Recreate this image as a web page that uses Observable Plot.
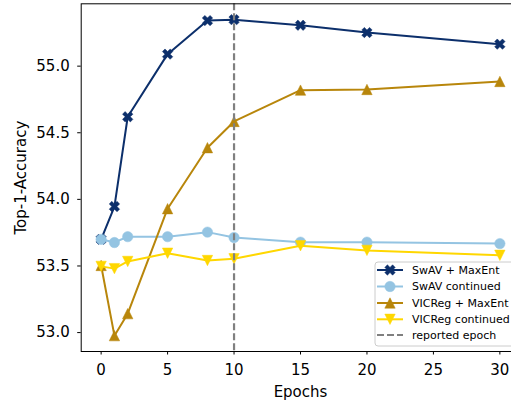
<!DOCTYPE html>
<html><head><meta charset="utf-8">
<script src="https://cdn.jsdelivr.net/npm/d3@7"></script>
<script src="https://cdn.jsdelivr.net/npm/@observablehq/plot@0.6"></script>
<style>html,body{margin:0;padding:0;overflow:hidden;background:#fff}</style>
</head><body><div id="chart"></div>
<script>
const epochs = [0, 1, 2, 5, 8, 10, 15, 20, 30];
const swavMaxEnt = [53.70, 53.946, 54.62, 55.09, 55.342, 55.349, 55.307, 55.252, 55.165];
const swavContinued = [53.70, 53.676, 53.72, 53.72, 53.754, 53.714, 53.679, 53.679, 53.668];
const vicregMaxEnt = [53.504, 52.977, 53.142, 53.93, 54.388, 54.585, 54.82, 54.825, 54.885];
const vicregContinued = [53.497, 53.48, 53.534, 53.596, 53.541, 53.554, 53.652, 53.617, 53.58];
const seriesNames = ["SwAV + MaxEnt", "SwAV continued", "VICReg + MaxEnt", "VICReg continued"];
const seriesColors = ["#0c2f6b", "#94c4e2", "#b8860b", "#ffd700"];
const reportedEpoch = [10];
const reportedLabel = "reported epoch";
const xTicks = [0, 5, 10, 15, 20, 25, 30];
const yTicks = [53.0, 53.5, 54.0, 54.5, 55.0];

function radiusOf(size) { return Math.sqrt(size / Math.PI); }
const symX = {draw(ctx, size) {
  const u = radiusOf(size) / 2.83;
  const pts = [[-1,-3],[1,-3],[1,-1],[3,-1],[3,1],[1,1],[1,3],[-1,3],[-1,1],[-3,1],[-3,-1],[-1,-1]]
    .map(([x, y]) => [(x - y) / Math.SQRT2 * u, (x + y) / Math.SQRT2 * u]);
  ctx.moveTo(...pts[0]); for (const p of pts.slice(1)) ctx.lineTo(...p); ctx.closePath();
}};
const symCircle = {draw(ctx, size) { const r = radiusOf(size); ctx.moveTo(r, 0); ctx.arc(0, 0, r, 0, 2 * Math.PI); ctx.closePath(); }};
const symUp = {draw(ctx, size) { const r = radiusOf(size); ctx.moveTo(0, -r); ctx.lineTo(r, r); ctx.lineTo(-r, r); ctx.closePath(); }};
const symDown = {draw(ctx, size) { const r = radiusOf(size); ctx.moveTo(0, r); ctx.lineTo(r, -r); ctx.lineTo(-r, -r); ctx.closePath(); }};
const seriesSymbols = [symX, symCircle, symUp, symDown];
const seriesValues = [swavMaxEnt, swavContinued, vicregMaxEnt, vicregContinued];

const font = "DejaVu Sans, sans-serif";
const marks = [];
seriesNames.forEach((name, i) => {
  const rows = epochs.map((e, j) => ({series: name, epoch: e, value: seriesValues[i][j]}));
  marks.push(Plot.line(rows, {x: "epoch", y: "value", stroke: seriesColors[i], strokeWidth: 2}));
  marks.push(Plot.dot(rows, {x: "epoch", y: "value", fill: seriesColors[i], stroke: seriesColors[i], strokeWidth: 0.5, r: 5.2, symbol: seriesSymbols[i]}));
});
marks.push(Plot.ruleX(reportedEpoch, {stroke: "#808080", strokeWidth: 2.2, strokeDasharray: "7,3"}));
marks.push(Plot.frame({stroke: "#000", strokeWidth: 1}));
marks.push(Plot.axisX({ticks: xTicks, tickSize: 3.5, tickPadding: 9, fontSize: 15, label: "Epochs", labelAnchor: "center", labelArrow: "none", labelOffset: 45}));
marks.push(Plot.axisY({ticks: yTicks, tickSize: 3.5, tickPadding: 8, fontSize: 15, tickFormat: d3.format(".1f"), label: "Top-1-Accuracy", labelAnchor: "center", labelArrow: "none", labelOffset: 66}));

const plot = Plot.plot({
  width: 511, height: 402,
  marginLeft: 80.7, marginRight: -8.3, marginTop: 3.3, marginBottom: 51,
  x: {domain: [-1.5, 31.5]},
  y: {domain: [52.858, 55.468]},
  style: {fontFamily: font, fontSize: "15px", color: "#000", background: "#fff"},
  marks
});
document.getElementById("chart").appendChild(plot);

// legend
const svg = d3.select(plot);
const lg = svg.append("g").attr("font-family", font).attr("font-size", 11).attr("text-anchor", "start");
lg.append("rect").attr("x", 375).attr("y", 262).attr("width", 145).attr("height", 84).attr("rx", 3)
  .attr("fill", "#fff").attr("fill-opacity", 0.8).attr("stroke", "#ccc").attr("stroke-width", 1);
const rowsY = [270, 286.5, 303, 319.3, 335];
const legendItems = seriesNames.map((n, i) => ({name: n, color: seriesColors[i], sym: seriesSymbols[i]}))
  .concat([{name: reportedLabel, color: "#808080", dash: true}]);
legendItems.forEach((it, i) => {
  const y = rowsY[i];
  lg.append("line").attr("x1", 377).attr("x2", 403).attr("y1", y).attr("y2", y)
    .attr("stroke", it.color).attr("stroke-width", 2).attr("stroke-dasharray", it.dash ? "7,3" : null);
  if (it.sym) {
    lg.append("path").attr("transform", `translate(390,${y})`)
      .attr("d", d3.symbol(it.sym, Math.PI * 5.2 * 5.2)()).attr("fill", it.color).attr("stroke", it.color).attr("stroke-width", 0.5);
  }
  lg.append("text").attr("x", 412).attr("y", y).attr("dy", "0.35em").attr("fill", "#000").text(it.name);
});
</script></body></html>
